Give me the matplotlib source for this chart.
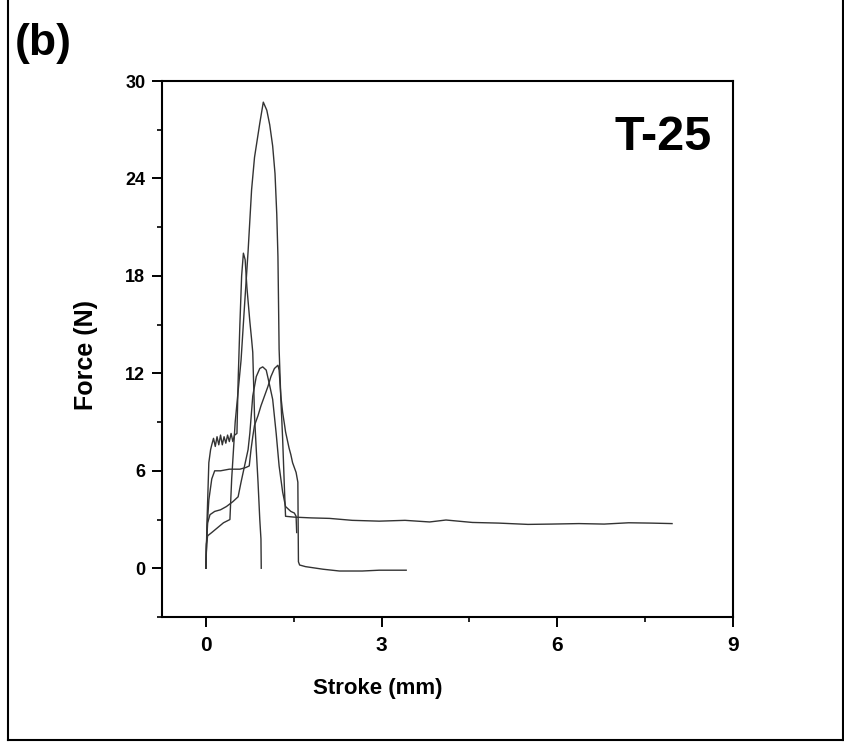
import matplotlib
matplotlib.use("Agg")
import matplotlib.pyplot as plt
from matplotlib.ticker import MultipleLocator
from matplotlib.lines import Line2D

# curve with the large peak and the long tail
c1_x = [0, 0.01, 0.03, 0.1, 0.2, 0.3, 0.41, 0.44, 0.5, 0.6, 0.66, 0.72, 0.78, 0.83, 0.92,
        0.98, 1.04, 1.09, 1.14, 1.18, 1.21, 1.23, 1.25, 1.28, 1.31, 1.34, 1.36, 1.5, 1.8,
        2.11, 2.5, 2.96, 3.4, 3.82, 4.1, 4.55, 5.0, 5.5, 5.9, 6.37, 6.8, 7.22, 7.6, 7.96]
c1_f = [0, 1.5, 2.0, 2.2, 2.5, 2.8, 3.0, 5.5, 9.0, 12.8, 16.2, 19.5, 23.3, 25.3, 27.4,
        28.7, 28.2, 27.3, 26.0, 24.3, 21.8, 19.2, 13.5, 10.4, 8.0, 5.0, 3.2, 3.15, 3.1,
        3.07, 2.95, 2.9, 2.95, 2.85, 2.97, 2.82, 2.78, 2.7, 2.72, 2.75, 2.72, 2.8, 2.78, 2.75]

# curve with the serrated plateau (~8 N)
c2_x = [0, 0.02, 0.05, 0.08, 0.1, 0.13, 0.16, 0.19, 0.22, 0.25, 0.28, 0.31, 0.34, 0.37,
        0.4, 0.43, 0.46, 0.49, 0.53, 0.55, 0.58, 0.61, 0.64, 0.67, 0.7, 0.75, 0.78, 0.8,
        0.83, 0.86, 0.89, 0.92, 0.94, 0.945]
c2_f = [0, 3.0, 6.5, 7.3, 7.6, 8.0, 7.5, 8.1, 7.6, 8.2, 7.6, 8.1, 7.7, 8.2,
        7.8, 8.3, 7.8, 8.2, 8.3, 11.5, 15.0, 18.0, 19.4, 19.0, 17.3, 15.2, 14.1, 13.3,
        9.4, 7.3, 5.3, 3.0, 1.8, 0]

# curve peaking near 1 mm, ending around 1.55 mm
c3_x = [0, 0.01, 0.03, 0.07, 0.15, 0.25, 0.35, 0.46, 0.55, 0.6, 0.66, 0.72, 0.75, 0.8,
        0.86, 0.92, 0.97, 1.03, 1.08, 1.14, 1.2, 1.25, 1.31, 1.36, 1.45, 1.51, 1.54, 1.55]
c3_f = [0, 1.5, 2.8, 3.3, 3.5, 3.6, 3.8, 4.1, 4.4, 5.3, 6.3, 7.3, 8.3, 10.6,
        11.8, 12.3, 12.4, 12.2, 11.4, 10.4, 8.3, 6.3, 4.7, 3.8, 3.5, 3.4, 3.2, 2.2]

# curve with the ~6 N plateau and the short tail
c4_x = [0, 0.02, 0.05, 0.1, 0.15, 0.25, 0.4, 0.58, 0.68, 0.74, 0.77, 0.8, 0.83, 0.89,
        0.94, 1.0, 1.06, 1.11, 1.17, 1.23, 1.25, 1.28, 1.31, 1.34, 1.36, 1.39, 1.42, 1.45,
        1.48, 1.51, 1.54, 1.57, 1.58, 1.6, 1.7, 2.0, 2.28, 2.67, 2.96, 3.2, 3.42]
c4_f = [0, 2.5, 4.2, 5.5, 6.0, 6.0, 6.1, 6.1, 6.2, 6.3, 7.3, 8.1, 8.8, 9.4,
        10.0, 10.6, 11.2, 11.8, 12.3, 12.5, 12.2, 10.6, 9.6, 8.9, 8.4, 7.9, 7.4, 7.0,
        6.5, 6.2, 5.9, 5.3, 0.4, 0.2, 0.1, -0.06, -0.17, -0.17, -0.12, -0.12, -0.12]

curves = [(c1_x, c1_f), (c2_x, c2_f), (c3_x, c3_f), (c4_x, c4_f)]

x_ticks = [0, 3, 6, 9]
y_ticks = [0, 6, 12, 18, 24, 30]

plt.rcParams['font.family'] = ['Liberation Sans', 'DejaVu Sans']

fig = plt.figure(figsize=(8.45, 7.42), dpi=100)
ax = fig.add_axes([0.1917, 0.1685, 0.6757, 0.7223])

for xs, fs in curves:
    ax.plot(xs, fs, color='#333333', lw=1.0)

ax.set_xlim(-0.75, 9)
ax.set_ylim(-3, 30)
ax.set_xticks(x_ticks)
ax.set_yticks(y_ticks)
ax.xaxis.set_minor_locator(MultipleLocator(1.5))
ax.yaxis.set_minor_locator(MultipleLocator(3))
ax.tick_params(which='major', direction='out', length=7, width=1.4, pad=5)
ax.tick_params(which='minor', direction='out', length=3.5, width=1.2)
ax.tick_params(axis='x', which='major', pad=7)
for s in ax.spines.values():
    s.set_linewidth(1.5)

for lab in ax.get_yticklabels():
    lab.set_fontsize(13)
    lab.set_fontweight('bold')
for lab in ax.get_xticklabels():
    lab.set_fontsize(15)
    lab.set_fontweight('bold')

ax.set_xlabel('Stroke (mm)', fontsize=16, fontweight='bold', va='center')
ax.xaxis.set_label_coords(0.378, -0.134)
ax.set_ylabel('Force (N)', fontsize=18, fontweight='bold', va='center')
ax.yaxis.set_label_coords(-0.133, 0.489)

ax.text(0.878, 0.871, 'T-25', transform=ax.transAxes, ha='center', va='baseline',
        fontsize=35, fontweight='bold')

fig.text(0.018, 0.926, '(b)', ha='left', va='baseline', fontsize=32, fontweight='bold')

# outer frame
fig.add_artist(Line2D([0.009, 0.009], [0.0027, 1.0], transform=fig.transFigure, color='black', lw=1.5))
fig.add_artist(Line2D([0.009, 0.998], [0.0027, 0.0027], transform=fig.transFigure, color='black', lw=1.5))
fig.add_artist(Line2D([0.998, 0.998], [0.0027, 1.0], transform=fig.transFigure, color='black', lw=1.5))

fig.savefig('out.png', dpi=100)
